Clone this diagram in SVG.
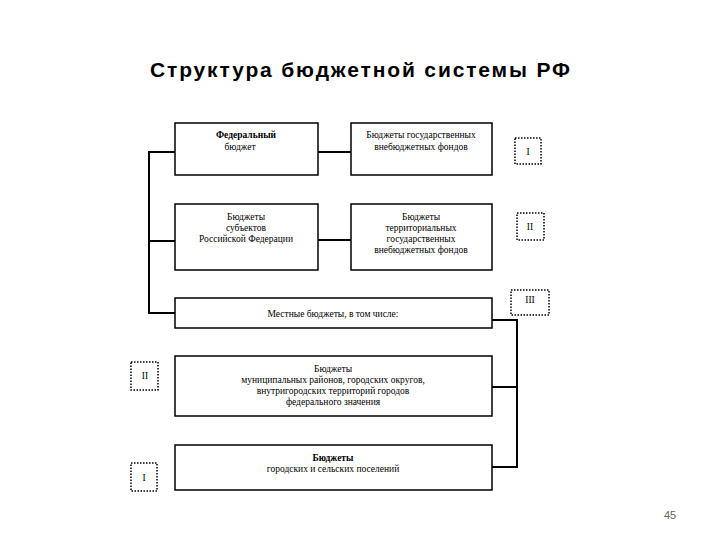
<svg xmlns="http://www.w3.org/2000/svg" width="720" height="540" viewBox="0 0 720 540">
<style>
.b{fill:#fff;stroke:#000;stroke-width:1.5}
.d{fill:#fff;stroke:#000;stroke-width:1.5;stroke-dasharray:1.5 1.5}
.t{font-family:"Liberation Serif",serif;font-size:9.5px;text-anchor:middle;fill:#000}
.c{fill:none;stroke:#000;stroke-width:2}
</style>
<rect width="720" height="540" fill="#fff"/>
<text x="360" y="77" font-family="Liberation Sans,Arial,sans-serif" font-size="21" font-weight="bold" text-anchor="middle" textLength="420" lengthAdjust="spacing">Структура бюджетной системы РФ</text>
<g id="connectors">
<polyline class="c" points="175,152 149,152 149,313 175,313"/>
<line class="c" x1="149" y1="241" x2="175" y2="241"/>
<line class="c" x1="318" y1="152" x2="351" y2="152"/>
<line class="c" x1="318" y1="240" x2="351" y2="240"/>
<polyline class="c" points="492,320 517,320 517,467 492,467"/>
<line class="c" x1="517" y1="387" x2="492" y2="387"/>
</g>
<g id="n1"><rect class="b" x="175" y="123" width="143" height="52"/><text class="t" x="246" y="138" font-weight="bold">Федеральный</text><text class="t" x="240" y="150">бюджет</text></g>
<g id="n2"><rect class="b" x="351" y="123" width="141" height="52"/><text class="t" x="421" y="138">Бюджеты государственных</text><text class="t" x="421" y="150">внебюджетных фондов</text></g>
<g id="n3"><rect class="b" x="175" y="204" width="143" height="66"/><text class="t" x="246" y="220">Бюджеты</text><text class="t" x="246" y="231">субъектов</text><text class="t" x="246" y="242">Российской Федерации</text></g>
<g id="n4"><rect class="b" x="351" y="204" width="141" height="66"/><text class="t" x="421" y="220">Бюджеты</text><text class="t" x="421" y="231">территориальных</text><text class="t" x="421" y="242">государственных</text><text class="t" x="421" y="253">внебюджетных фондов</text></g>
<g id="n5"><rect class="b" x="175" y="298" width="317" height="30"/><text class="t" x="333" y="317">Местные бюджеты, в том числе:</text></g>
<g id="n6"><rect class="b" x="175" y="356" width="317" height="60"/><text class="t" x="333" y="372">Бюджеты</text><text class="t" x="333" y="383">муниципальных районов, городских округов,</text><text class="t" x="333" y="394">внутригородских территорий городов</text><text class="t" x="333" y="405">федерального значения</text></g>
<g id="n7"><rect class="b" x="175" y="445" width="317" height="45"/><text class="t" x="333" y="461" font-weight="bold">Бюджеты</text><text class="t" x="333" y="472">городских и сельских поселений</text></g>
<g id="l1"><rect class="d" x="515" y="138" width="26" height="26"/><text class="t" x="528" y="155">I</text></g>
<g id="l2"><rect class="d" x="517" y="213" width="27" height="27"/><text class="t" x="530" y="230">II</text></g>
<g id="l3"><rect class="d" x="511" y="290" width="38" height="25"/><text class="t" x="530" y="303">III</text></g>
<g id="l4"><rect class="d" x="131" y="362" width="27" height="28"/><text class="t" x="145" y="379">II</text></g>
<g id="l5"><rect class="d" x="131" y="463" width="26" height="28"/><text class="t" x="144" y="481">I</text></g>
<text x="670" y="519" font-family="Liberation Sans,Arial,sans-serif" font-size="11" fill="#666" text-anchor="middle">45</text>
</svg>
